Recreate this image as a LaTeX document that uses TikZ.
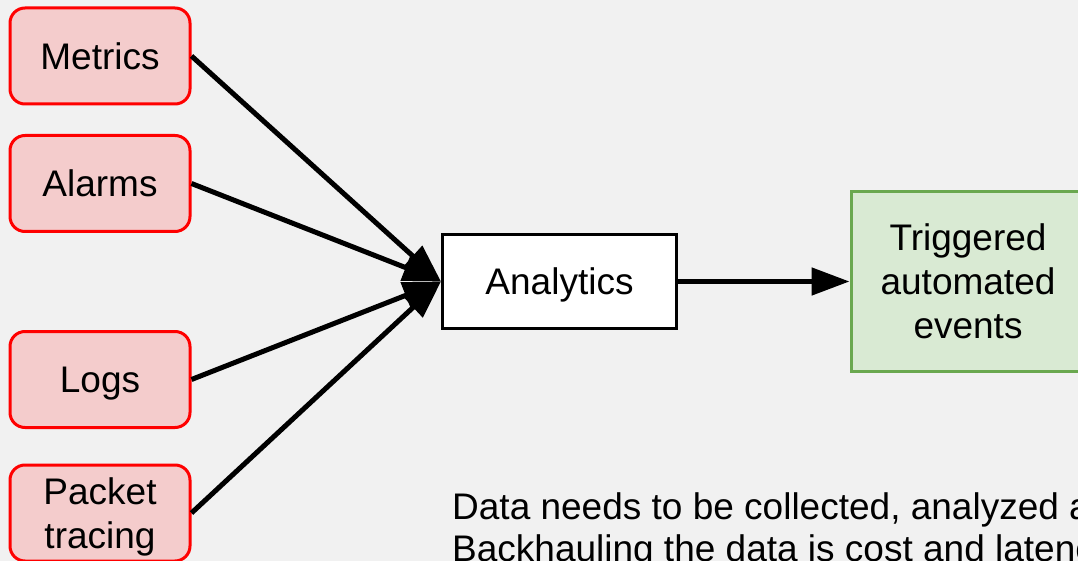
\documentclass[tikz,border=0pt]{standalone}
\usepackage{fontspec}
\setmainfont{Liberation Sans}
\usetikzlibrary{arrows.meta}
\definecolor{pagebg}{HTML}{F1F1F1}
\definecolor{srcfill}{HTML}{F4CCCC}
\definecolor{srcline}{HTML}{FF0000}
\definecolor{outfill}{HTML}{D9EAD3}
\definecolor{outline}{HTML}{6AA84F}
\tikzset{
  txt/.style={font=\fontsize{37}{44}\selectfont, align=center, text depth=0pt},
  source/.style={txt, draw=srcline, fill=srcfill, line width=3pt,
    rounded corners=15pt, minimum width=180pt, minimum height=96pt, inner sep=0pt},
  engine/.style={txt, draw=black, fill=white, line width=3pt,
    minimum width=234pt, minimum height=94pt, inner sep=0pt},
  result/.style={txt, draw=outline, fill=outfill, line width=3pt,
    minimum width=234pt, minimum height=180pt, inner sep=0pt},
  feed/.style={line width=5pt, -{Triangle[length=38pt, width=27pt]}},
  note/.style={font=\fontsize{37}{42}\selectfont, anchor=base west, inner sep=0pt}
}
\begin{document}
\begin{tikzpicture}[x=1pt, y=-1pt]
  \useasboundingbox (0,0) rectangle (1078,561);
  \clip (0,0) rectangle (1078,561);
  \fill[pagebg] (0,0) rectangle (1078,561);

  % data sources
  \node[source] (metrics) at (100,56) {Metrics};
  \node[source] (alarms)  at (100,183.5) {Alarms};
  \node[source] (logs)    at (100,379.5) {Logs};
  \node[source] (packets) at (100,513) {Packet\\tracing};

  % processing and outcome
  \node[engine] (analytics) at (559.5,281.5) {Analytics};
  \node[result] (events) at (968,281.5) {Triggered\\automated\\events};

  \draw[feed] (metrics.east) -- (analytics.west);
  \draw[feed] (alarms.east)  -- (analytics.west);
  \draw[feed] (logs.east)    -- (analytics.west);
  \draw[feed] (packets.east) -- (analytics.west);
  \draw[feed] (analytics.east) -- (events.west);

  % caption
  \node[note] (line1) at (452,519) {Data needs to be collected, analyzed and};
  \node[note] (line2) at (452,561) {Backhauling the data is cost and latency};
\end{tikzpicture}
\end{document}
